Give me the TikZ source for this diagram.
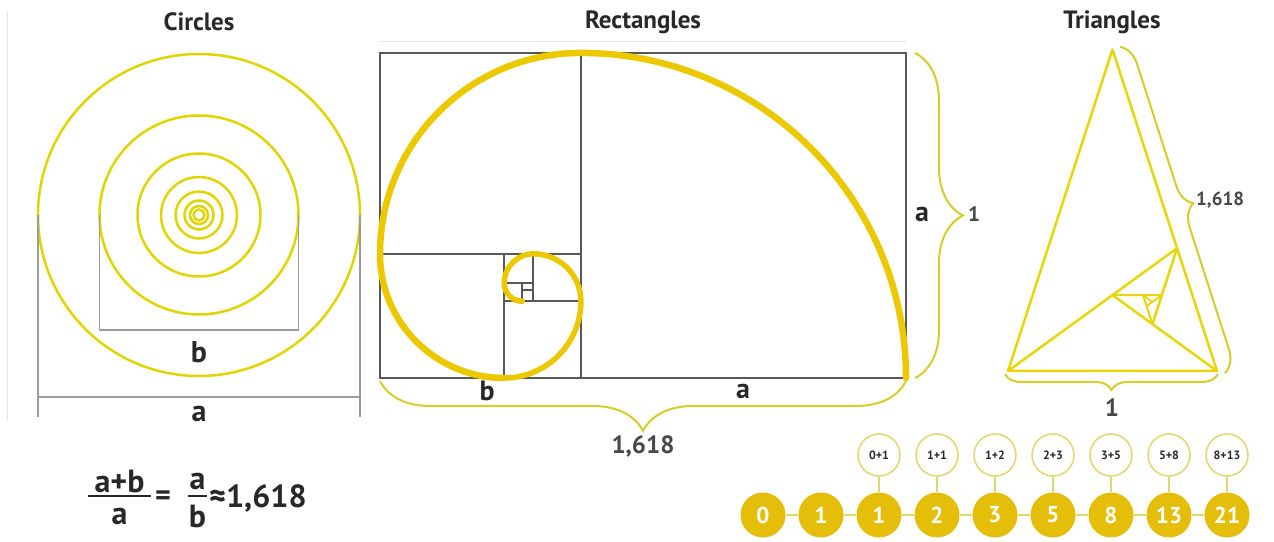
\documentclass[tikz,border=0pt]{standalone}
\usepackage{fontspec}
\setmainfont{PT Sans}
\usetikzlibrary{calc,decorations.pathreplacing}
\definecolor{spiralc}{RGB}{236,200,0}
\definecolor{circc}{RGB}{224,213,0}
\definecolor{tric}{RGB}{230,214,10}
\definecolor{bracec}{RGB}{214,205,40}
\definecolor{rectc}{RGB}{88,88,88}
\definecolor{dimc}{RGB}{155,155,155}
\definecolor{textc}{RGB}{40,40,40}
\definecolor{goldc}{RGB}{228,190,8}
\definecolor{ringc}{RGB}{228,214,110}
\definecolor{faintc}{RGB}{228,228,228}
\begin{document}
\begin{tikzpicture}[x=1pt,y=1pt,
  title/.style={font=\bfseries\fontsize{25}{30}\selectfont, text=textc, inner sep=0pt},
  lbl/.style={font=\bfseries\fontsize{#1}{#1}\selectfont, text=textc, inner sep=0pt},
  num/.style={font=\bfseries\fontsize{#1}{#1}\selectfont, text=textc!85!white, inner sep=0pt},
  rectline/.style={draw=rectc, line width=2pt},
  dimline/.style={draw=dimc, line width=1.4pt},
  spiral/.style={draw=spiralc, line cap=round},
  circline/.style={draw=circc, line width=2.5pt},
  triline/.style={draw=tric, line width=2.5pt, line join=round},
  brc/.style={draw=bracec, line width=2pt, decorate, decoration={brace, amplitude=#1}},
  fibc/.style={circle, fill=goldc, minimum size=45pt, inner sep=0pt, text=white, font=\bfseries\fontsize{23}{23}\selectfont},
  topc/.style={circle, draw=ringc, line width=1.5pt, fill=white, minimum size=42pt, inner sep=0pt, text=textc, font=\bfseries\fontsize{12}{12}\selectfont},
  fibline/.style={draw=ringc, line width=1.5pt}]
\useasboundingbox (0,0) rectangle (1274,541);
\fill[white] (0,0) rectangle (1274,541);
% faint frame lines
\draw[faintc, line width=1pt] (7,529) -- (7,121);
\draw[faintc, line width=1pt] (380,499) -- (906,499);
% titles
\node[title] (tc) at (199,519) {Circles};
\node[title] (tr) at (643,519) {Rectangles};
\node[title] (tt) at (1112,519) {Triangles};
% ---------------- circles
\coordinate (cc) at (199,326);
\foreach \r in {161,99.5,61.5,38,23.5,14.5,9,5.5}
  \draw[circline] (cc) circle[radius=\r];
\coordinate (b1) at (99.5,326); \coordinate (b2) at (298.5,326);
\coordinate (b3) at (99.5,211); \coordinate (b4) at (298.5,211);
\draw[dimline] (b1) -- (b3) -- (b4) -- (b2);
\coordinate (a1) at (38,326); \coordinate (a2) at (360,326);
\coordinate (a3) at (38,124); \coordinate (a4) at (360,124);
\coordinate (a5) at (38,144); \coordinate (a6) at (360,144);
\draw[dimline] (a1) -- (a3); \draw[dimline] (a2) -- (a4); \draw[dimline] (a5) -- (a6);
\node[lbl=30] (cb) at (199,189) {b};
\node[lbl=30] (ca) at (199,127) {a};
% formula
\node[lbl=32] (fn1) at (119.5,60) {a+b};
\node[lbl=32] (fd1) at (119.5,25) {a};
\draw[draw=textc, line width=2.4pt] (88,45) -- (151,45);
\node[lbl=30] (feq) at (163,43) {=};
\node[lbl=32] (fn2) at (197.5,60) {a};
\node[lbl=32] (fd2) at (197.5,25) {b};
\draw[draw=textc, line width=2.4pt] (188,45) -- (207,45);
\node[lbl=32, anchor=west] (fval) at (209,43) {≈1,618};
% ---------------- rectangles
\draw[rectline] (380,163) rectangle (906,488);
\draw[rectline] (580.92,163) -- (580.92,488);
\draw[rectline] (380,287.08) -- (580.92,287.08);
\draw[rectline] (504.17,163) -- (504.17,287.08);
\draw[rectline] (504.17,239.74) -- (580.92,239.74);
\draw[rectline] (533.49,239.74) -- (533.49,287.08);
\draw[rectline, line width=1.6pt] (504.17,257.77) -- (533.49,257.77);
\draw[rectline, line width=1.6pt] (522.29,239.74) -- (522.29,257.77);
\draw[rectline, line width=1.4pt] (522.29,250.94) -- (533.49,250.94);
\draw[spiral, line width=6.5pt] (906,163)
  arc[start angle=0,end angle=90,radius=325.08]
  arc[start angle=90,end angle=180,radius=200.92]
  arc[start angle=180,end angle=270,radius=124.17];
\draw[spiral, line width=5.5pt] (504.17,163)
  arc[start angle=270,end angle=360,radius=76.74]
  arc[start angle=0,end angle=90,radius=47.43]
  arc[start angle=90,end angle=180,radius=29.31]
  arc[start angle=180,end angle=270,radius=18.12];
\coordinate (rbR) at (906,160); \coordinate (rbL) at (380,160);
\draw[brc=50] (rbR) -- (rbL);
\coordinate (rrT) at (915,488); \coordinate (rrB) at (915,163);
\draw[brc=48] (rrT) -- (rrB);
\node[lbl=28] (rb) at (487,150) {b};
\node[lbl=28] (ra) at (743,150) {a};
\node[num=25] (rphi) at (643,95) {1,618};
\node[lbl=28] (ra2) at (922,327) {a};
\node[num=21] (r1) at (974,327) {1};
% ---------------- triangles
\coordinate (A) at (1112.5,491.5);
\coordinate (B) at (1008,170);
\coordinate (C) at (1217,170);
\coordinate (D) at ($(C)!0.381966!(A)$);
\coordinate (E) at ($(B)!0.618034!(D)$);
\coordinate (F) at ($(C)!0.618034!(E)$);
\coordinate (G) at ($(D)!0.618034!(F)$);
\coordinate (H) at ($(E)!0.618034!(G)$);
\coordinate (I) at ($(F)!0.618034!(H)$);
\coordinate (J) at ($(G)!0.618034!(I)$);
\draw[triline] (A) -- (B) -- (C) -- cycle;
\draw[triline] (B) -- (D);
\draw[triline] (C) -- (E);
\draw[triline] (D) -- (F);
\draw[triline, line width=2.2pt] (E) -- (G);
\draw[triline, line width=2pt] (F) -- (H);
\draw[triline, line width=1.8pt] (G) -- (I);
\draw[triline, line width=1.6pt] (H) -- (J);
\coordinate (tbT) at (1120,494); \coordinate (tbB) at (1225,168);
\draw[brc=22] (tbT) -- (tbB);
\coordinate (tdR) at (1218,167); \coordinate (tdL) at (1005,167);
\draw[brc=16] (tdR) -- (tdL);
\node[num=19, anchor=west] (tphi) at (1196,341) {1,618};
\node[num=25] (t1) at (1112,133) {1};
% ---------------- fibonacci
\foreach \v [count=\i from 0] in {0,1,1,2,3,5,8,13,21}
  \node[fibc] (f\i) at ({763+58*\i},26) {\v};
\foreach \i [evaluate=\i as \j using int(\i+1)] in {0,...,7}
  \draw[fibline] (f\i) -- (f\j);
\foreach \t [count=\i from 2] in {0+1,1+1,1+2,2+3,3+5,5+8,8+13}{
  \node[topc] (t\i) at ({763+58*\i},86) {\t};
  \draw[fibline] (t\i) -- (f\i);
}
\end{tikzpicture}
\end{document}
